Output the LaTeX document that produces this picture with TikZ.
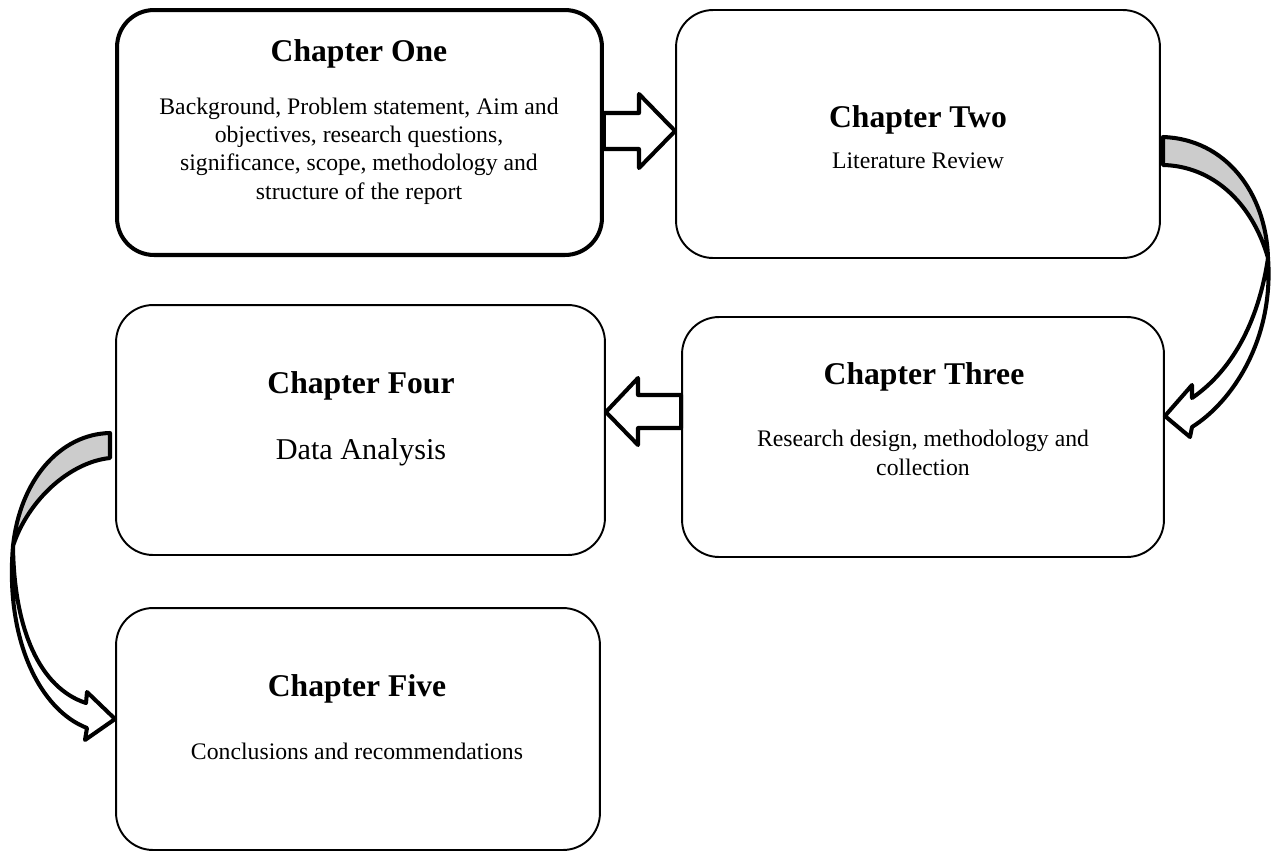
\documentclass[tikz,border=0pt]{standalone}
\usepackage{fontspec}
\setmainfont{Liberation Serif}

\tikzset{
    chapbox/.style={draw, line width=1.1pt, rounded corners=0.74cm},
    chaptitle/.style={font=\fontsize{18}{22}\selectfont\bfseries},
    chaptext/.style={align=center, font=\fontsize{13.5}{16.2}\selectfont},
    blockarrow/.style={draw, fill=white, line width=2.3pt, line join=round},
    bandgrey/.style={draw, fill=black!20, line width=2.3pt, line join=round},
    bandwhite/.style={draw, fill=white, line width=2.3pt, line join=round}
}

\begin{document}
\begin{tikzpicture}[x=0.02cm, y=-0.02cm]
    \useasboundingbox (0,0) rectangle (1278,853);

    % chapter boxes
    \node[chapbox, line width=2.3pt, minimum width=9.7cm, minimum height=4.9cm] (one) at (359.5,132.5) {};
    \node[chapbox, minimum width=9.68cm, minimum height=4.96cm] (two) at (918,134) {};
    \node[chapbox, minimum width=9.64cm, minimum height=4.8cm] (three) at (923,437) {};
    \node[chapbox, minimum width=9.78cm, minimum height=5cm] (four) at (360.5,430) {};
    \node[chapbox, minimum width=9.68cm, minimum height=4.84cm] (five) at (358,729) {};

    % titles and texts
    \node[chaptitle] (one-title) at (359,54) {Chapter One};
    \node[chaptext] (one-text) at (359,151) {Background, Problem statement, Aim and\\ objectives, research questions,\\ significance, scope, methodology and\\ structure of the report};
    \node[chaptitle] (two-title) at (918,120) {Chapter Two};
    \node[chaptext] (two-text) at (918,161) {Literature Review};
    \node[chaptitle] (three-title) at (924,377) {Chapter Three};
    \node[chaptext] (three-text) at (923,453) {Research design, methodology and\\ collection};
    \node[chaptitle] (four-title) at (361,386) {Chapter Four};
    \node[chaptext, font=\fontsize{17.2}{20}\selectfont] (four-text) at (361,452) {Data Analysis};
    \node[chaptitle] (five-title) at (357,689) {Chapter Five};
    \node[chaptext] (five-text) at (357,751) {Conclusions and recommendations};

    % block arrows
    \draw[blockarrow] (one.east |- 0,113) -- (639,113) -- (639,94) -- (two.west |- 0,131)
        -- (639,168) -- (639,149) -- (one.east |- 0,149) -- cycle;
    \draw[blockarrow] (three.west |- 0,395) -- (638,395) -- (638,378) -- (four.east |- 0,412)
        -- (638,445) -- (638,428) -- (three.west |- 0,428) -- cycle;

    % curved arrow two -> three
    \draw[bandwhite] (1268,258) .. controls (1274,340) and (1232,402) .. (1192,427) -- (1190,437)
        -- (three.east |- 0,416) -- (1192,385) -- (1192,398)
        .. controls (1230,372) and (1258,325) .. (1268,258) -- cycle;
    \draw[bandgrey] (1163,137) .. controls (1225,139) and (1266,192) .. (1268,258)
        .. controls (1252,202) and (1212,166) .. (1163,165) -- cycle;

    % curved arrow four -> five
    \draw[bandwhite] (13,546) .. controls (5,640) and (40,710) .. (87,728) -- (85,740)
        -- (five.west |- 0,719) -- (87,692) -- (86,703)
        .. controls (40,688) and (14,630) .. (13,546) -- cycle;
    \draw[bandgrey] (110,433) .. controls (60,434) and (20,480) .. (13,546)
        .. controls (28,500) and (70,462) .. (110,458) -- cycle;
\end{tikzpicture}
\end{document}
